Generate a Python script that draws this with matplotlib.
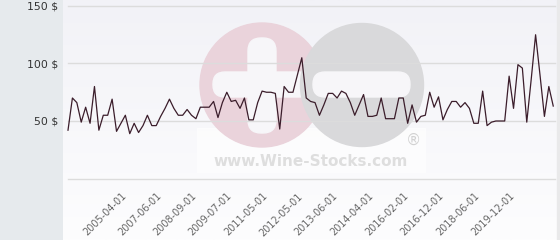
import matplotlib
matplotlib.use('Agg')
import matplotlib.pyplot as plt
import numpy as np
from matplotlib.patches import Circle, FancyBboxPatch, Rectangle
from matplotlib.colors import LinearSegmentedColormap

prices = [42, 70, 66, 49, 62, 48, 80, 42, 55, 55, 69, 41, 48, 55, 39, 48, 40, 46, 55, 46,
          46, 54, 61, 69, 61, 55, 55, 60, 55, 52, 62, 62, 62, 67, 53, 66, 75, 67, 68, 61,
          70, 51, 51, 66, 76, 75, 75, 74, 43, 80, 75, 75, 90, 105, 70, 67, 66, 55, 64, 74,
          74, 70, 76, 74, 66, 55, 64, 73, 54, 54, 55, 70, 52, 52, 52, 70, 70, 48, 64, 49,
          54, 55, 75, 62, 71, 51, 60, 67, 67, 62, 66, 61, 48, 48, 76, 46, 49, 50, 50, 50,
          89, 61, 99, 96, 49, 86, 125, 90, 54, 80, 63]
tick_positions = [12, 20, 28, 36, 44, 52, 60, 68, 76, 84, 92, 100]
tick_labels = ['2005-04-01', '2007-06-01', '2008-09-01', '2009-07-01', '2011-05-01',
               '2012-05-01', '2013-06-01', '2014-04-01', '2016-02-01', '2016-12-01',
               '2018-06-01', '2019-12-01']
y_ticks = [50, 100, 150]
y_labels = ['50 $', '100 $', '150 $']

W, H = 560, 240
fig = plt.figure(figsize=(5.6, 2.4), dpi=100)
fig.patch.set_facecolor('#e6eaed')

# background panel + watermark (pixel coordinates)
bg = fig.add_axes([0, 0, 1, 1])
bg.set_xlim(0, W)
bg.set_ylim(H, 0)
bg.axis('off')
cmap = LinearSegmentedColormap.from_list('g', ['#f2f2f7', '#fdfdfe'])
grad = np.linspace(0, 1, 100).reshape(-1, 1)
bg.imshow(grad, extent=(63, 557, 240, 0), aspect='auto', cmap=cmap, zorder=0)
bg.set_xlim(0, W)
bg.set_ylim(H, 0)
bg.add_patch(Rectangle((557, 0), 3, 240, color='#e9e9ea', zorder=0))

bg.add_patch(Rectangle((197, 128), 228, 44, color='white', alpha=0.6, zorder=1))
bg.add_patch(Circle((262, 85), 62, color='#ead3db', zorder=2))
bg.add_patch(FancyBboxPatch((248, 38), 28, 95, boxstyle='round,pad=0,rounding_size=13',
                            color='#f7f6f9', zorder=3))
bg.add_patch(FancyBboxPatch((213, 72), 98, 25, boxstyle='round,pad=0,rounding_size=12',
                            color='#f7f6f9', zorder=3))
bg.add_patch(Circle((362, 85), 61.5, color='#d9d9db', zorder=4))
bg.add_patch(FancyBboxPatch((313, 72), 97, 25, boxstyle='round,pad=0,rounding_size=12',
                            color='#f7f6f9', zorder=5))
bg.text(311, 161, 'www.Wine-Stocks.com', ha='center', va='center', fontsize=11,
        fontweight='bold', color='#dedede', zorder=6)
bg.text(413, 140, '®', ha='center', va='center', fontsize=11, color='#d2d2d2', zorder=6)

# main chart
ax = fig.add_axes([68 / W, 1 - 178.5 / H, (555 - 68) / W, (178.5 - 6) / H])
ax.patch.set_alpha(0)
ax.set_ylim(0, 150)
ax.set_xlim(0, 110.4)
for s in ax.spines.values():
    s.set_visible(False)
for yv in [0] + y_ticks:
    ax.axhline(yv, color='#dcdcdc', lw=1, zorder=1, clip_on=False)
ax.set_yticks(y_ticks, y_labels)
ax.tick_params(axis='y', length=0, pad=7, labelsize=7.8, labelcolor='#333333')
ax.set_xticks(tick_positions, tick_labels)
ax.tick_params(axis='x', length=0, pad=9, labelsize=7, labelcolor='#666666')
for lbl in ax.get_xticklabels():
    lbl.set_rotation(45)
    lbl.set_ha('right')
    lbl.set_va('top')
    lbl.set_rotation_mode('anchor')

ax.plot(range(len(prices)), prices, color='#3b1d2b', lw=0.9, zorder=3, clip_on=False)

fig.savefig('out.png', dpi=100, facecolor=fig.get_facecolor())
